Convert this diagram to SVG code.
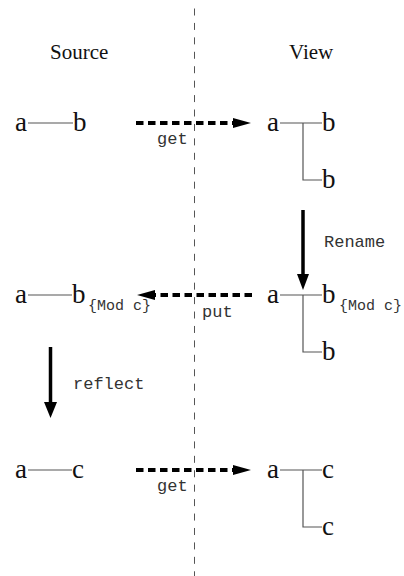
<svg xmlns="http://www.w3.org/2000/svg" width="404" height="576" viewBox="0 0 404 576">
  <style>
    .head { font-family: "Liberation Serif", "Times New Roman", serif; font-size: 21px; fill: #111; }
    .sym { font-family: "Liberation Serif", "Times New Roman", serif; font-size: 27px; fill: #111; }
    .sub { font-family: "Liberation Mono", "Courier New", monospace; font-size: 15px; fill: #333; }
    .lbl { font-family: "Liberation Mono", "Courier New", monospace; font-size: 17px; fill: #333; }
    .edge { stroke: #555; stroke-width: 1.2; fill: none; }
    .flow { stroke: #000; stroke-width: 4; stroke-dasharray: 7.5 4.5; fill: none; }
    .step { stroke: #000; stroke-width: 3.5; fill: none; }
    .tip { fill: #000; }
    .divider { stroke: #555; stroke-width: 1; stroke-dasharray: 7 7.43; }
  </style>

  <!-- source / view divider -->
  <line class="divider" x1="194.5" y1="8.5" x2="194.5" y2="576"/>

  <!-- column headings -->
  <g id="heading-source"><text class="head" x="50" y="59">Source</text></g>
  <g id="heading-view"><text class="head" x="289" y="59">View</text></g>

  <!-- source trees -->
  <g id="source-1">
    <text class="sym" x="15" y="131">a</text>
    <line class="edge" x1="28" y1="123" x2="73" y2="123"/>
    <text class="sym" x="73" y="131">b</text>
  </g>
  <g id="source-2">
    <text class="sym" x="15" y="303">a</text>
    <line class="edge" x1="28" y1="295" x2="72" y2="295"/>
    <text class="sym" x="72" y="303">b</text>
    <text class="sub" x="88" y="310">{Mod c}</text>
  </g>
  <g id="source-3">
    <text class="sym" x="15" y="478">a</text>
    <line class="edge" x1="28" y1="470" x2="72" y2="470"/>
    <text class="sym" x="72" y="478">c</text>
  </g>

  <!-- view trees -->
  <g id="view-1">
    <text class="sym" x="267" y="131">a</text>
    <polyline class="edge" points="280,123 322,123"/>
    <polyline class="edge" points="303,123 303,180 322,180"/>
    <text class="sym" x="322" y="131">b</text>
    <text class="sym" x="322" y="188">b</text>
  </g>
  <g id="view-2">
    <text class="sym" x="267" y="303">a</text>
    <polyline class="edge" points="280,295 322,295"/>
    <polyline class="edge" points="303,295 303,352 322,352"/>
    <text class="sym" x="322" y="303">b</text>
    <text class="sub" x="339" y="310">{Mod c}</text>
    <text class="sym" x="322" y="360">b</text>
  </g>
  <g id="view-3">
    <text class="sym" x="267" y="478">a</text>
    <polyline class="edge" points="280,470 322,470"/>
    <polyline class="edge" points="303,470 303,527 322,527"/>
    <text class="sym" x="322" y="478">c</text>
    <text class="sym" x="322" y="535">c</text>
  </g>

  <!-- transformations -->
  <g id="connectors">
    <g id="get-1">
      <line class="flow" x1="136" y1="123" x2="234" y2="123"/>
      <polygon class="tip" points="233,118 251,123 233,128"/>
      <text class="lbl" x="157" y="144">get</text>
    </g>
    <g id="put">
      <line class="flow" x1="252" y1="295" x2="155" y2="295"/>
      <polygon class="tip" points="155,290 137,295 155,300"/>
      <text class="lbl" x="202" y="317">put</text>
    </g>
    <g id="get-2">
      <line class="flow" x1="136" y1="470" x2="234" y2="470"/>
      <polygon class="tip" points="233,465 251,470 233,475"/>
      <text class="lbl" x="157" y="491">get</text>
    </g>
    <g id="rename">
      <line class="step" x1="303" y1="210" x2="303" y2="276"/>
      <polygon class="tip" points="297,274 309,274 303,290"/>
      <text class="lbl" x="324" y="247">Rename</text>
    </g>
    <g id="reflect">
      <line class="step" x1="50.5" y1="347" x2="50.5" y2="404"/>
      <polygon class="tip" points="44,402 57,402 50.5,418"/>
      <text class="lbl" x="73" y="389">reflect</text>
    </g>
  </g>
</svg>
